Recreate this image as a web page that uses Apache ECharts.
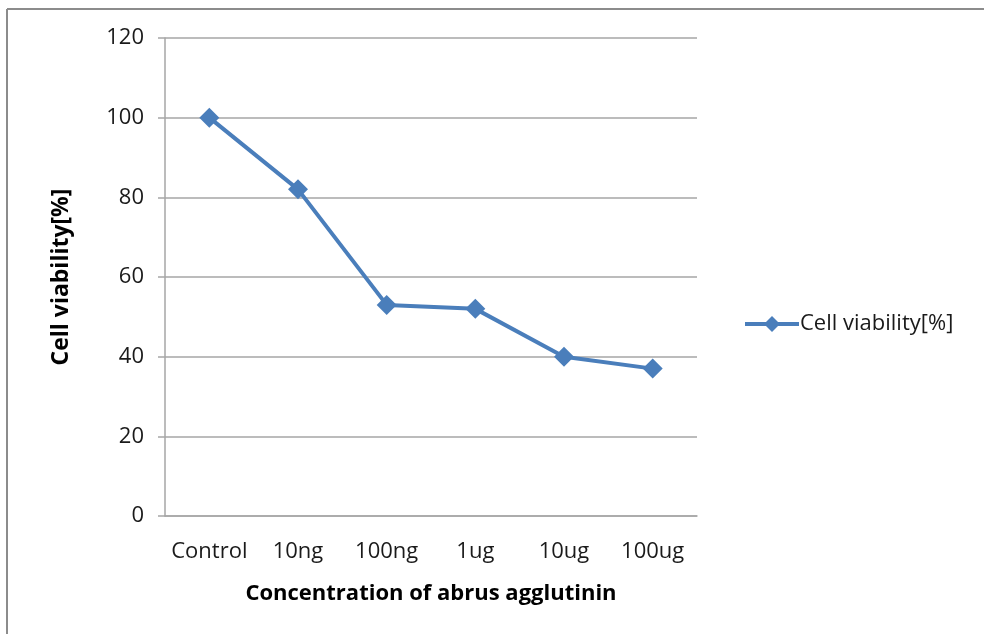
<!DOCTYPE html>
<html><head><meta charset="utf-8">
<script src="https://cdn.jsdelivr.net/npm/echarts@6/dist/echarts.min.js"></script>
<style>html,body{margin:0;padding:0;background:#fff}#c{width:984px;height:634px}</style>
</head><body><div id="c"></div>
<script>
const categories = ['Control','10ng','100ng','1ug','10ug','100ug'];
const viability = [100, 82, 53, 52, 40, 37];
const seriesName = 'Cell viability[%]';
const yTitle = 'Cell viability[%]';
const xTitle = 'Concentration of abrus agglutinin';

const font = '"Open Sans", "Noto Sans", sans-serif';
const chart = echarts.init(document.getElementById('c'), null, {renderer:'canvas'});
chart.setOption({
  animation:false,
  backgroundColor:'#fff',
  graphic:[
    {type:'line', shape:{x1:7,y1:9,x2:984,y2:9}, style:{stroke:'#8c8c8c',lineWidth:2}},
    {type:'line', shape:{x1:7,y1:9,x2:7,y2:634}, style:{stroke:'#8c8c8c',lineWidth:2}}
  ],
  grid:{left:165,right:287,top:38,bottom:118,containLabel:false},
  legend:{
    data:[{name:seriesName}], orient:'vertical', left:738, top:308,
    itemWidth:54, itemHeight:20, itemGap:0,
    lineStyle:{width:4},
    textStyle:{fontFamily:font,fontSize:22,color:'#1a1a1a',padding:[0,0,0,-4]}
  },
  xAxis:{
    type:'category', data:categories, boundaryGap:true,
    axisLine:{show:true,lineStyle:{color:'#a6a6a6',width:1.5}},
    axisTick:{show:false},
    axisLabel:{fontFamily:font,fontSize:22,color:'#1a1a1a',margin:25,interval:0,hideOverlap:false},
    name:xTitle, nameLocation:'middle', nameGap:67,
    nameTextStyle:{fontFamily:font,fontSize:22,fontWeight:'bold',color:'#000'}
  },
  yAxis:{
    type:'value', min:0, max:120, interval:20,
    axisLine:{show:true,lineStyle:{color:'#a6a6a6',width:1.5}},
    axisTick:{show:true,inside:false,length:7,lineStyle:{color:'#a6a6a6',width:1.5}},
    splitLine:{show:true,lineStyle:{color:'#a6a6a6',width:1.5}},
    axisLabel:{fontFamily:font,fontSize:22,color:'#1a1a1a',margin:21},
    name:yTitle, nameLocation:'middle', nameGap:92,
    nameTextStyle:{fontFamily:font,fontSize:23,fontWeight:'bold',color:'#000'}
  },
  series:[{
    name:seriesName, type:'line', data:viability,
    symbol:'diamond', symbolSize:20,
    lineStyle:{color:'#4a7ebb',width:4},
    itemStyle:{color:'#4a7ebb'}
  }]
});
</script></body></html>
